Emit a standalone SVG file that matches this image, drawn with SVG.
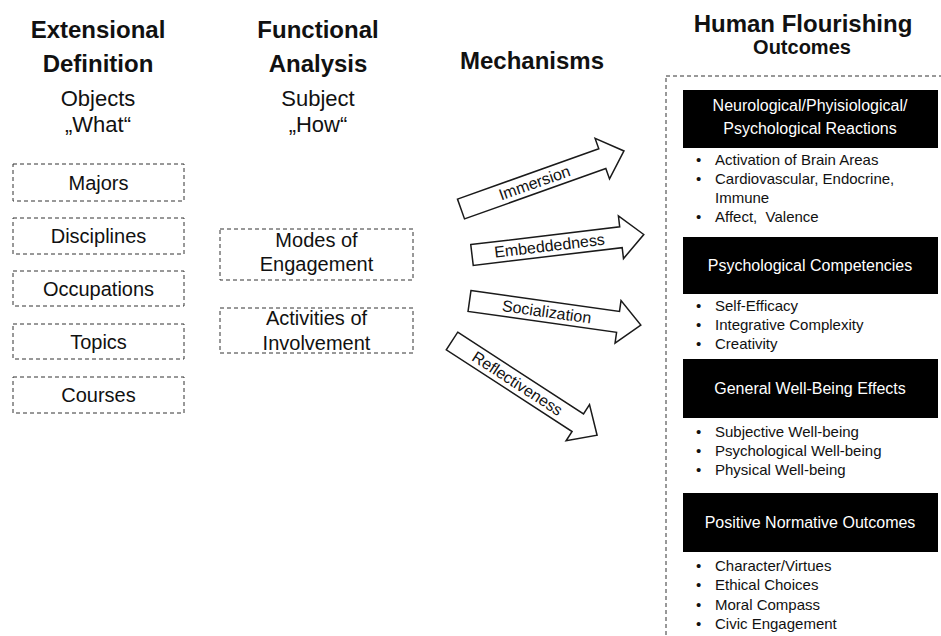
<svg xmlns="http://www.w3.org/2000/svg" width="941" height="636" viewBox="0 0 941 636">
  <style>
    text { font-family: "Liberation Sans", Arial, sans-serif; fill: #111; }
    .head { font-size: 24px; font-weight: bold; text-anchor: middle; }
    .sub { font-size: 22px; text-anchor: middle; }
    .dash { fill: none; stroke: #333; stroke-width: 1; stroke-dasharray: 4 3; }
    .lbl { font-size: 20px; text-anchor: middle; }
    .arrow { fill: #fff; stroke: #1a1a1a; stroke-width: 1.5; stroke-linejoin: miter; }
    .alabel { font-size: 16px; text-anchor: middle; }
    .bar { fill: #000; }
    .bartxt { font-size: 16px; text-anchor: middle; fill: #fff; }
    .item { font-size: 15px; }
  </style>
  <defs>
    <path id="blockArrow" d="M0,-10.5 H150 V-21.5 L173,0 L150,21.5 V10.5 H0 Z"/>
  </defs>

  <!-- column headings -->
  <g id="col-extensional">
    <text class="head" x="98" y="38">Extensional</text>
    <text class="head" x="98" y="72">Definition</text>
    <text class="sub" x="98" y="106">Objects</text>
    <text class="sub" x="98" y="132">„What“</text>
  </g>
  <g id="col-functional">
    <text class="head" x="318" y="38">Functional</text>
    <text class="head" x="318" y="72">Analysis</text>
    <text class="sub" x="318" y="106">Subject</text>
    <text class="sub" x="318" y="132">„How“</text>
  </g>
  <g id="col-mechanisms">
    <text class="head" x="532" y="69">Mechanisms</text>
  </g>
  <g id="col-outcomes">
    <text class="head" x="803" y="32">Human Flourishing</text>
    <text class="head" x="802" y="54" style="font-size:20px">Outcomes</text>
  </g>

  <!-- object categories -->
  <g id="majors">
    <rect class="dash" x="13" y="164" width="171" height="37"/>
    <text class="lbl" x="98.5" y="189.5">Majors</text>
  </g>
  <g id="disciplines">
    <rect class="dash" x="13" y="218" width="171" height="36"/>
    <text class="lbl" x="98.5" y="243">Disciplines</text>
  </g>
  <g id="occupations">
    <rect class="dash" x="13" y="271" width="171" height="35"/>
    <text class="lbl" x="98.5" y="295.5">Occupations</text>
  </g>
  <g id="topics">
    <rect class="dash" x="13" y="324" width="171" height="35"/>
    <text class="lbl" x="98.5" y="348.5">Topics</text>
  </g>
  <g id="courses">
    <rect class="dash" x="13" y="377" width="171" height="36"/>
    <text class="lbl" x="98.5" y="402">Courses</text>
  </g>

  <!-- subject categories -->
  <g id="modes">
    <rect class="dash" x="220" y="229" width="193" height="51"/>
    <text class="lbl" x="316.5" y="247">Modes of</text>
    <text class="lbl" x="316.5" y="271">Engagement</text>
  </g>
  <g id="activities">
    <rect class="dash" x="220" y="308" width="193" height="45"/>
    <text class="lbl" x="316.5" y="325">Activities of</text>
    <text class="lbl" x="316.5" y="350">Involvement</text>
  </g>

  <!-- mechanism arrows -->
  <g id="connectors">
    <g id="immersion" transform="translate(461,209) rotate(-19.6)">
      <use href="#blockArrow" class="arrow"/>
      <text class="alabel" x="78" y="5.5">Immersion</text>
    </g>
    <g id="embeddedness" transform="translate(472,255) rotate(-6.8)">
      <use href="#blockArrow" class="arrow"/>
      <text class="alabel" x="78" y="5.5">Embeddedness</text>
    </g>
    <g id="socialization" transform="translate(469.5,301) rotate(8)">
      <use href="#blockArrow" class="arrow"/>
      <text class="alabel" x="78" y="5.5">Socialization</text>
    </g>
    <g id="reflectiveness" transform="translate(452,341) rotate(33)">
      <use href="#blockArrow" class="arrow"/>
      <text class="alabel" x="78" y="5.5">Reflectiveness</text>
    </g>
  </g>

  <!-- outcomes panel -->
  <rect id="outcomes-frame" class="dash" x="666" y="76" width="320" height="600"/>

  <g id="reactions">
    <rect class="bar" x="683" y="90" width="255" height="58"/>
    <text class="bartxt" x="810" y="111">Neurological/Phyisiological/</text>
    <text class="bartxt" x="810" y="134">Psychological Reactions</text>
    <g class="item">
      <text x="696" y="165">•</text><text x="715" y="165">Activation of Brain Areas</text>
      <text x="696" y="184">•</text><text x="715" y="184">Cardiovascular, Endocrine,</text>
      <text x="715" y="203">Immune</text>
      <text x="696" y="222">•</text><text x="715" y="222" xml:space="preserve">Affect,  Valence</text>
    </g>
  </g>

  <g id="competencies">
    <rect class="bar" x="683" y="237" width="255" height="57"/>
    <text class="bartxt" x="810" y="271">Psychological Competencies</text>
    <g class="item">
      <text x="696" y="311">•</text><text x="715" y="311">Self-Efficacy</text>
      <text x="696" y="330">•</text><text x="715" y="330">Integrative Complexity</text>
      <text x="696" y="349">•</text><text x="715" y="349">Creativity</text>
    </g>
  </g>

  <g id="wellbeing">
    <rect class="bar" x="683" y="359" width="255" height="59"/>
    <text class="bartxt" x="810" y="394">General Well-Being Effects</text>
    <g class="item">
      <text x="696" y="437">•</text><text x="715" y="437">Subjective Well-being</text>
      <text x="696" y="456">•</text><text x="715" y="456">Psychological Well-being</text>
      <text x="696" y="475">•</text><text x="715" y="475">Physical Well-being</text>
    </g>
  </g>

  <g id="normative">
    <rect class="bar" x="683" y="493" width="255" height="59"/>
    <text class="bartxt" x="810" y="528">Positive Normative Outcomes</text>
    <g class="item">
      <text x="696" y="571">•</text><text x="715" y="571">Character/Virtues</text>
      <text x="696" y="590">•</text><text x="715" y="590">Ethical Choices</text>
      <text x="696" y="610">•</text><text x="715" y="610">Moral Compass</text>
      <text x="696" y="629">•</text><text x="715" y="629">Civic Engagement</text>
    </g>
  </g>
</svg>
